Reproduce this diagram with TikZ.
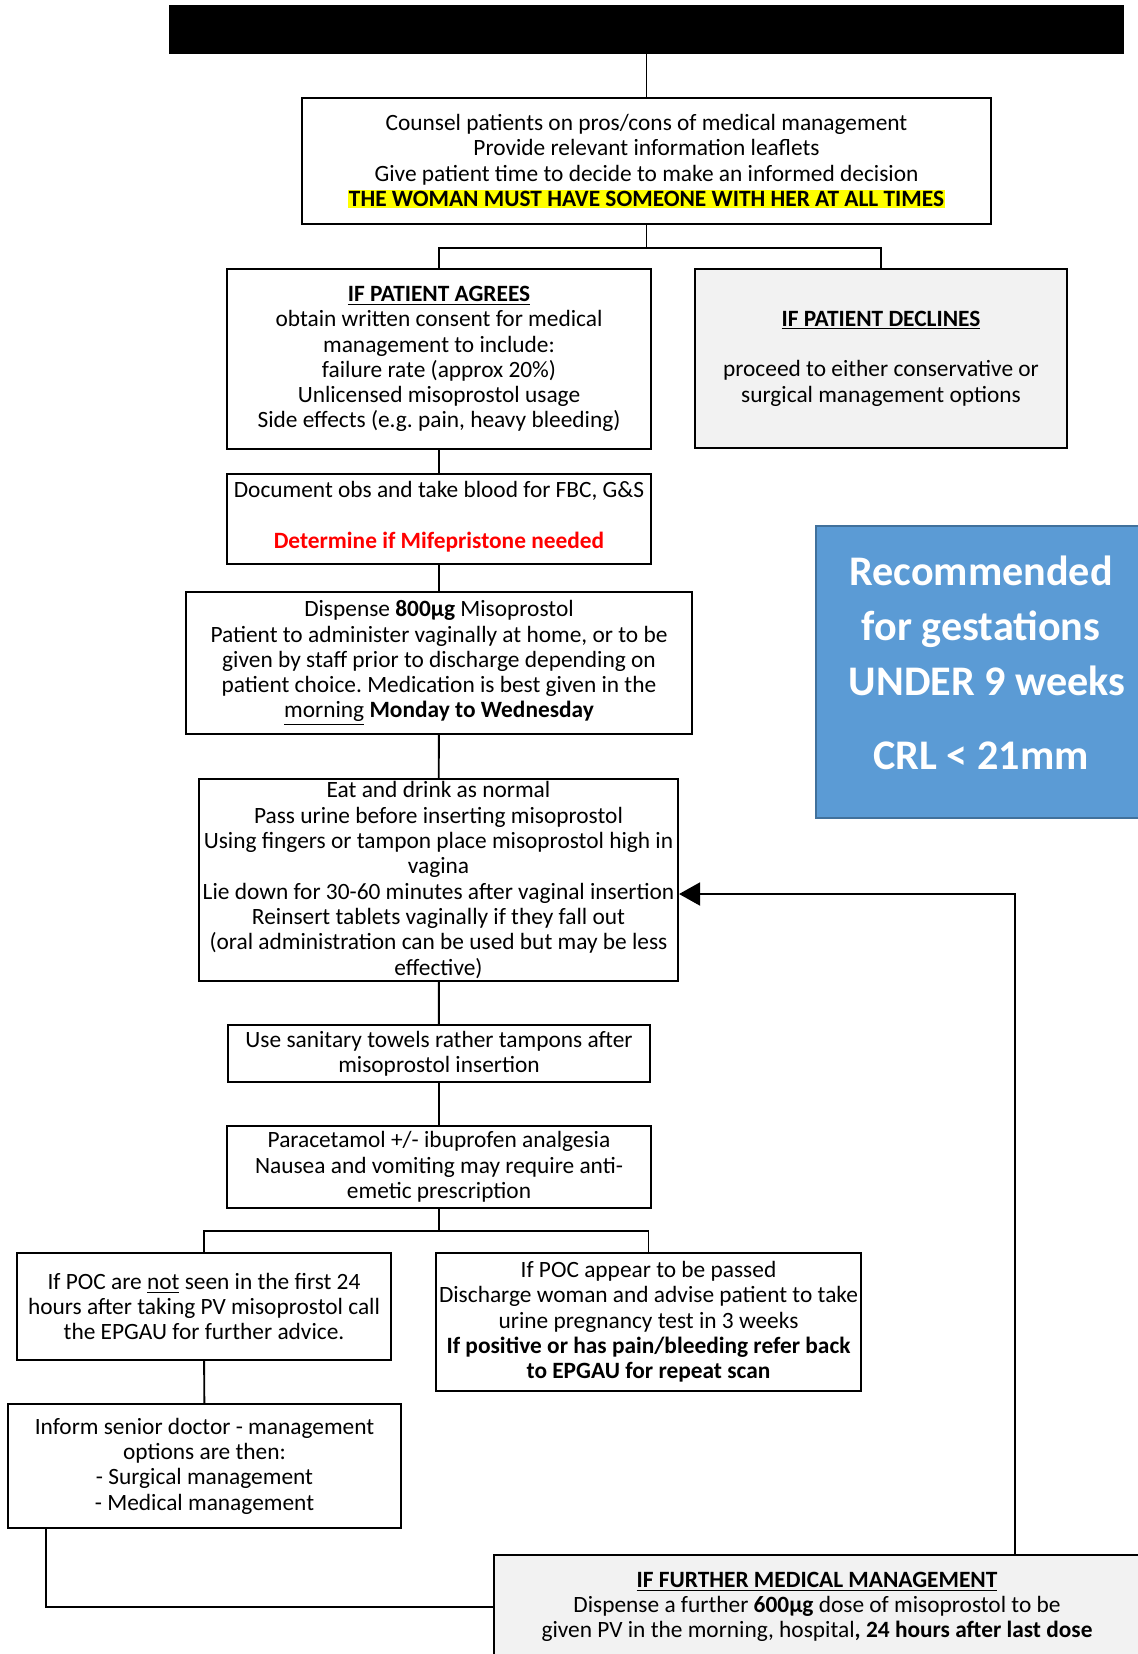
\documentclass[tikz,border=0pt]{standalone}
\usepackage{fontspec}
\setmainfont{Carlito}
\usetikzlibrary{arrows.meta,positioning}
\definecolor{declineGrey}{RGB}{242,242,242}
\definecolor{noteBlue}{RGB}{91,155,213}
\definecolor{noteEdge}{RGB}{65,113,156}
\definecolor{markYellow}{RGB}{255,255,0}
\newcommand{\hlmark}[1]{{\setlength{\fboxsep}{0.6pt}\colorbox{markYellow}{#1}}}
\frenchspacing

\begin{document}
\begin{tikzpicture}[x=0.02cm, y=-0.02cm,
    flowbox/.style 2 args={draw, line width=1.2pt, align=center, inner sep=1pt,
        minimum width=#1*0.02cm, minimum height=#2*0.02cm,
        font=\fontsize{13.3}{14.4}\selectfont},
    link/.style={line width=1.1pt}]

    \useasboundingbox (0,0) rectangle (1137,1654);

    % header bar
    \node[fill=black, inner sep=0pt, minimum width=955*0.02cm, minimum height=49*0.02cm]
        (header) at (646.5,29.5) {};

    \node[flowbox={689}{126}] (counsel) at (646.5,161)
        {Counsel patients on pros/cons of medical management\\
         Provide relevant information leaflets\\
         Give patient time to decide to make an informed decision\\
         \hlmark{\textbf{THE WOMAN MUST HAVE SOMEONE WITH HER AT ALL TIMES}}};

    \node[flowbox={424}{180}] (agree) at (439,359)
        {\textbf{\underline{IF PATIENT AGREES}}\\
         obtain written consent for medical\\
         management to include:\\
         failure rate (approx 20\%)\\
         Unlicensed misoprostol usage\\
         Side effects (e.g. pain, heavy bleeding)};

    \node[flowbox={372}{179}, fill=declineGrey] (decline) at (881,358.5)
        {\textbf{\underline{IF PATIENT DECLINES}}\\[14.4pt]
         proceed to either conservative or\\
         surgical management options};

    \node[flowbox={424}{90}] (doc) at (439,519)
        {Document obs and take blood for FBC, G\&S\\[14.4pt]
         \textcolor{red}{\textbf{Determine if Mifepristone needed}}\rule[-5pt]{0pt}{0pt}};

    \node[flowbox={506}{142}] (dispense) at (439,663)
        {Dispense \textbf{800µg} Misoprostol\\
         Patient to administer vaginally at home, or to be\\
         given by staff prior to discharge depending on\\
         patient choice. Medication is best given in the\\
         \underline{morning} \textbf{Monday to Wednesday}};

    \node[flowbox={479}{202}] (eat) at (438.5,880)
        {Eat and drink as normal\\
         Pass urine before inserting misoprostol\\
         Using fingers or tampon place misoprostol high in\\
         vagina\\
         Lie down for 30-60 minutes after vaginal insertion\\
         Reinsert tablets vaginally if they fall out\\
         (oral administration can be used but may be less\\
         effective)};

    \node[flowbox={422}{57}] (towels) at (439,1053.5)
        {Use sanitary towels rather tampons after\\
         misoprostol insertion};

    \node[flowbox={424}{82}] (pain) at (439,1167)
        {Paracetamol +/- ibuprofen analgesia\\
         Nausea and vomiting may require anti-\\
         emetic prescription};

    \node[flowbox={374}{107}] (notseen) at (204,1306.5)
        {If POC are \underline{not} seen in the first 24\\
         hours after taking PV misoprostol call\\
         the EPGAU for further advice.};

    \node[flowbox={425}{138}] (passed) at (648.5,1322)
        {If POC appear to be passed\\
         Discharge woman and advise patient to take\\
         urine pregnancy test in 3 weeks\\
         \textbf{If positive or has pain/bleeding refer back}\\
         \textbf{to EPGAU for repeat scan}};

    \node[flowbox={393}{124}] (senior) at (204.5,1466)
        {Inform senior doctor - management\\
         options are then:\\
         - Surgical management\\
         - Medical management};

    \node[flowbox={646}{104}, fill=declineGrey] (further) at (817,1607)
        {\textbf{\underline{IF FURTHER MEDICAL MANAGEMENT}}\\
         Dispense a further \textbf{600µg} dose of misoprostol to be\\
         given PV in the morning, hospital\textbf{, 24 hours after last dose}};

    % gestation note
    \node[fill=noteBlue, draw=noteEdge, line width=1pt, align=center, text=white,
        minimum width=330*0.02cm, minimum height=292*0.02cm,
        font=\fontsize{24}{31.3}\selectfont\bfseries] (gestation) at (981,672)
        {Recommended\\
         for gestations\\
         \hspace{7pt}UNDER 9 weeks\\[10.8pt]
         CRL < 21mm\rule[-11pt]{0pt}{0pt}};

    % connectors
    \draw[link] (header) -- (counsel);
    \draw[link] (counsel.south) -- ++(0,23) coordinate (fork1);
    \draw[link] (agree.north) |- (fork1) -| (decline.north);
    \draw[link] (agree) -- (doc);
    \draw[link] (doc) -- (dispense);
    \draw[link] (dispense) -- (eat);
    \draw[link] (eat) -- (towels);
    \draw[link] (towels) -- (pain);
    \draw[link] (pain.south) -- ++(0,22) coordinate (fork2);
    \draw[link] (notseen.north) |- (fork2) -| (passed.north);
    \draw[link] (notseen) -- (senior);
    \draw[link] ([xshift=39*0.02cm]senior.south west) |- (further.west);
    \draw[link, -{Triangle[length=0.42cm, width=0.46cm]}]
        ([xshift=198*0.02cm]further.north) |- ([yshift=-14*0.02cm]eat.east);
\end{tikzpicture}
\end{document}
